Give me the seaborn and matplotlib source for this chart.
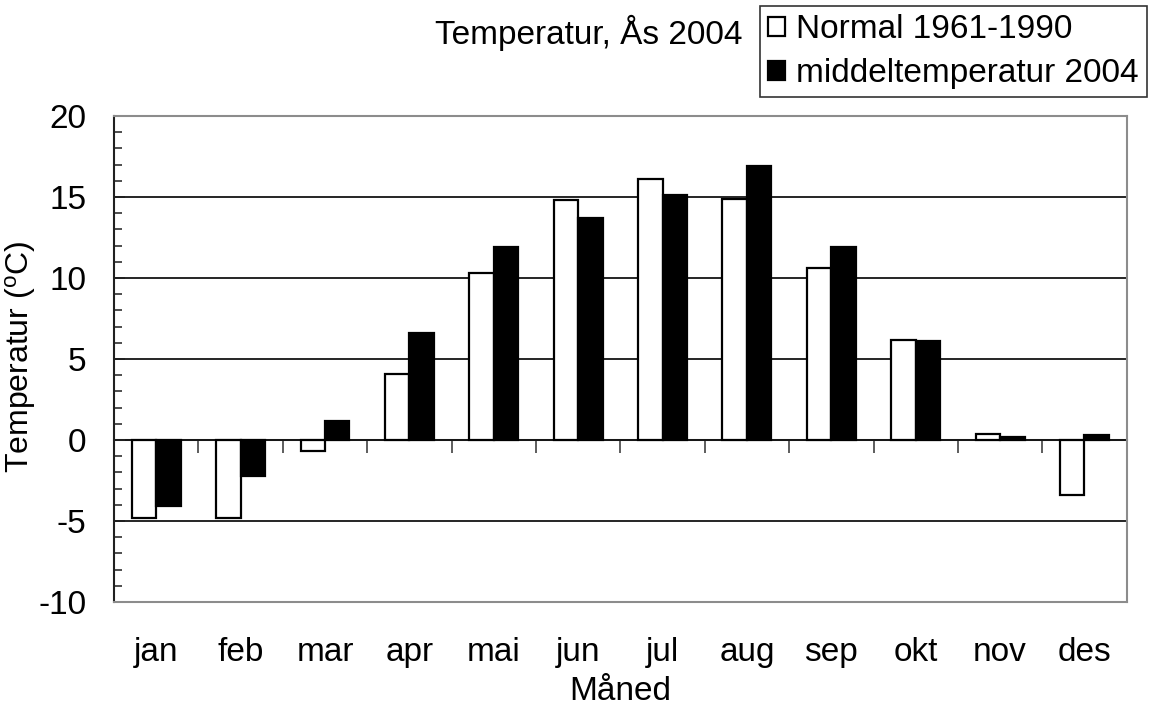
import matplotlib
matplotlib.use("Agg")
import matplotlib.pyplot as plt
from matplotlib.ticker import MultipleLocator, FixedLocator, NullFormatter
import numpy as np
import pandas as pd
import seaborn as sns

months = ["jan", "feb", "mar", "apr", "mai", "jun", "jul", "aug", "sep", "okt", "nov", "des"]
normal_1961_1990 = [-4.8, -4.8, -0.7, 4.1, 10.3, 14.8, 16.1, 14.9, 10.6, 6.2, 0.4, -3.4]
mean_2004 = [-4.1, -2.2, 1.2, 6.6, 11.9, 13.7, 15.1, 16.9, 11.9, 6.1, 0.2, 0.3]
series_names = ["Normal 1961-1990", "middeltemperatur 2004"]
y_ticks = [-10, -5, 0, 5, 10, 15, 20]

df = pd.DataFrame({
    "Måned": months * 2,
    "Temperatur": normal_1961_1990 + mean_2004,
    "Serie": [series_names[0]] * len(months) + [series_names[1]] * len(months),
})

plt.rcParams["font.family"] = ["Liberation Sans", "DejaVu Sans"]
FS = 24

fig = plt.figure(figsize=(11.52, 7.08), dpi=100)
ax = fig.add_axes([0.099, 0.1497, 0.879, 0.6865])
ax.set_axisbelow(True)

sns.barplot(
    data=df, x="Måned", y="Temperatur", hue="Serie", order=months,
    hue_order=series_names, palette=["white", "black"], width=0.58, gap=0,
    edgecolor="black", linewidth=1.6, saturation=1, ax=ax, legend=True,
)

ax.set_ylim(y_ticks[0], y_ticks[-1])
ax.set_xlim(-0.5, len(months) - 0.5)
ax.yaxis.set_major_locator(FixedLocator(y_ticks))
ax.yaxis.set_minor_locator(MultipleLocator(1))
ax.set_yticklabels([str(v) for v in y_ticks])
ax.tick_params(axis="y", which="major", direction="in", length=8, width=1.3,
               color="#202020", labelsize=FS, pad=20)
ax.tick_params(axis="y", which="minor", direction="in", length=6, width=1.3,
               color="#404040")
ax.tick_params(axis="x", length=0, labelsize=FS, pad=25)
ax.yaxis.grid(True, which="major", color="black", linewidth=1.2)

for side in ["top", "right", "bottom"]:
    ax.spines[side].set_color("#8c8c8c")
    ax.spines[side].set_linewidth(1.5)
ax.spines["left"].set_color("#202020")
ax.spines["left"].set_linewidth(1.5)

# zero line with category separators
zero_axis = ax.secondary_xaxis(0, transform=ax.transData)
zero_axis.set_xticks(np.arange(-0.5, len(months), 1.0))
zero_axis.xaxis.set_major_formatter(NullFormatter())
zero_axis.tick_params(axis="x", direction="out", length=9, width=1.3, color="#505050")
zero_axis.spines["bottom"].set_color("#8c8c8c")
zero_axis.spines["bottom"].set_linewidth(1.5)

ax.set_xlabel("Måned", fontsize=FS, labelpad=6)
ax.set_ylabel("Temperatur ($\\mathregular{^{o}}$C)", fontsize=23)
ax.yaxis.set_label_coords(-0.075, 0.505)

handles, labels = ax.get_legend_handles_labels()
ax.legend_.remove()
leg = fig.legend(
    handles, labels, loc="upper right", bbox_to_anchor=(0.996, 0.992),
    fontsize=FS, frameon=True, fancybox=False, edgecolor="black",
    handlelength=0.5, handleheight=0.5, handletextpad=0.35,
    borderpad=0.25, labelspacing=0.39, borderaxespad=0.0,
)
leg.get_frame().set_linewidth(1.2)

fig.text(0.511, 0.954, "Temperatur, Ås 2004", fontsize=FS, ha="center", va="center")

fig.savefig("out.png", dpi=100, facecolor="white")
